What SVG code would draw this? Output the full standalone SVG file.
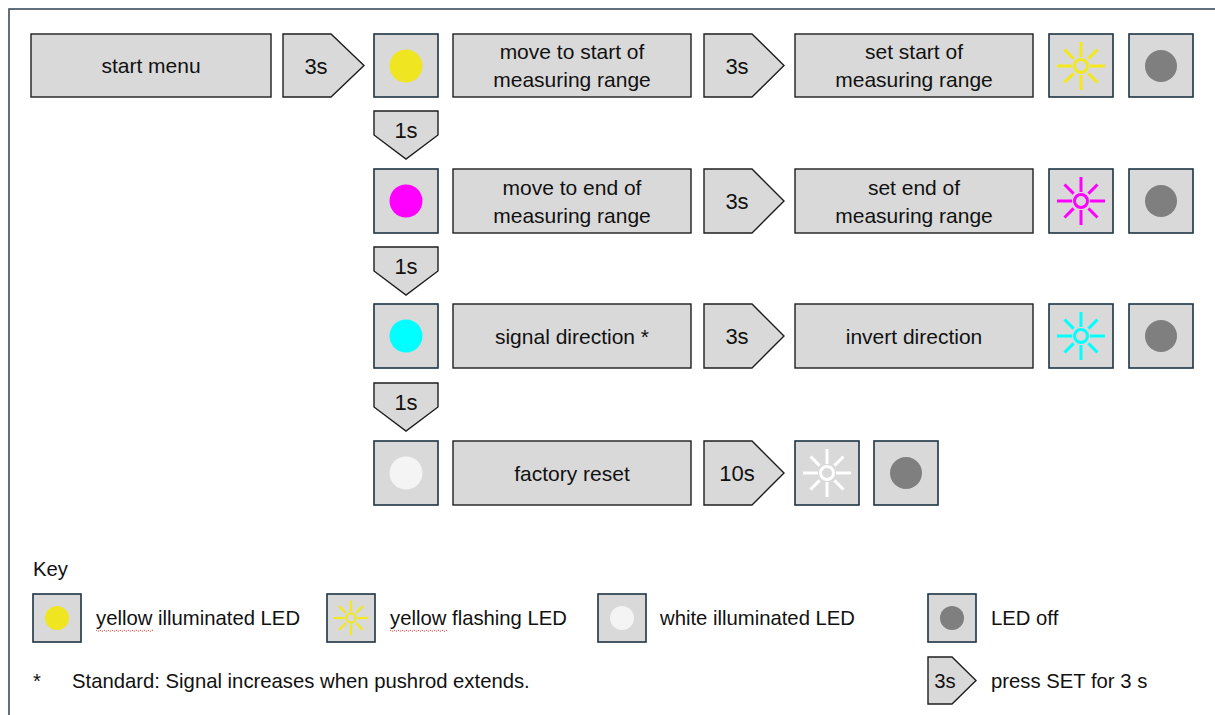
<svg xmlns="http://www.w3.org/2000/svg" xmlns:xlink="http://www.w3.org/1999/xlink" width="1215" height="715" viewBox="0 0 1215 715">
<style>
text{font-family:"Liberation Sans",Arial,sans-serif;font-size:21px;fill:#111;}
.c{text-anchor:middle;}
.num{font-size:22px;}
.k{font-size:20.3px;}
.box{fill:#d9d9d9;stroke:#1e1e1e;stroke-width:1.4;}
.led{fill:#d9d9d9;stroke:#1c3443;stroke-width:1.6;}
.arr{fill:#d9d9d9;stroke:#1e1e1e;stroke-width:1.4;stroke-linejoin:miter;}
.frame{fill:none;stroke:#2e4150;stroke-width:1.5;}
.sun{fill:none;stroke-width:3;}
.sq{fill:none;stroke:#d04040;stroke-width:0.9;stroke-dasharray:1.5 1;}
</style>
<defs>
<g id="sun">
<circle cx="0" cy="0" r="6.5"/>
<line x1="0" y1="-9" x2="0" y2="-24"/>
<line x1="0" y1="9" x2="0" y2="24"/>
<line x1="-9" y1="0" x2="-24" y2="0"/>
<line x1="9" y1="0" x2="24" y2="0"/>
<line x1="-7.4" y1="-7.4" x2="-16.5" y2="-16.5"/>
<line x1="7.4" y1="-7.4" x2="16.5" y2="-16.5"/>
<line x1="-7.4" y1="7.4" x2="-16.5" y2="16.5"/>
<line x1="7.4" y1="7.4" x2="16.5" y2="16.5"/>
</g>
</defs>
<rect x="9" y="9" width="1230" height="730" class="frame"/>

<!-- Row 1 -->
<g id="start-menu"><rect class="box" x="31" y="34" width="240" height="63"/><text class="c" x="151" y="73">start menu</text></g>
<g id="led-yellow"><rect class="led" x="374" y="34" width="64" height="63"/><circle cx="406" cy="66" r="16.5" fill="#efe521"/></g>
<g id="move-start"><rect class="box" x="453" y="34" width="238" height="63"/><text class="c" x="572" y="59">move to start of</text><text class="c" x="572" y="87">measuring range</text></g>
<g id="set-start"><rect class="box" x="795" y="34" width="238" height="63"/><text class="c" x="914" y="59">set start of</text><text class="c" x="914" y="87">measuring range</text></g>
<g id="flash-yellow"><rect class="led" x="1049" y="34" width="64" height="63"/><use xlink:href="#sun" href="#sun" x="1081" y="66" class="sun" stroke="#f2e81c"/></g>
<g id="off-1"><rect class="led" x="1129" y="34" width="64" height="63"/><circle cx="1161" cy="66" r="16" fill="#7f7f7f"/></g>

<!-- Row 2 -->
<g id="led-magenta"><rect class="led" x="374" y="169" width="64" height="64"/><circle cx="406" cy="201" r="16.5" fill="#ff00ff"/></g>
<g id="move-end"><rect class="box" x="453" y="169" width="238" height="64"/><text class="c" x="572" y="195">move to end of</text><text class="c" x="572" y="223">measuring range</text></g>
<g id="set-end"><rect class="box" x="795" y="169" width="238" height="64"/><text class="c" x="914" y="195">set end of</text><text class="c" x="914" y="223">measuring range</text></g>
<g id="flash-magenta"><rect class="led" x="1049" y="169" width="64" height="64"/><use xlink:href="#sun" href="#sun" x="1081" y="201" class="sun" stroke="#ff00ff"/></g>
<g id="off-2"><rect class="led" x="1129" y="169" width="64" height="64"/><circle cx="1161" cy="201" r="16" fill="#7f7f7f"/></g>

<!-- Row 3 -->
<g id="led-cyan"><rect class="led" x="374" y="304" width="64" height="64"/><circle cx="406" cy="336" r="16.5" fill="#00ffff"/></g>
<g id="signal-direction"><rect class="box" x="453" y="304" width="238" height="64"/><text class="c" x="572" y="344">signal direction *</text></g>
<g id="invert-direction"><rect class="box" x="795" y="304" width="238" height="64"/><text class="c" x="914" y="344">invert direction</text></g>
<g id="flash-cyan"><rect class="led" x="1049" y="304" width="64" height="64"/><use xlink:href="#sun" href="#sun" x="1081" y="336" class="sun" stroke="#00ffff"/></g>
<g id="off-3"><rect class="led" x="1129" y="304" width="64" height="64"/><circle cx="1161" cy="336" r="16" fill="#7f7f7f"/></g>

<!-- Row 4 -->
<g id="led-white"><rect class="led" x="374" y="441" width="64" height="64"/><circle cx="406" cy="473" r="16.5" fill="#f4f4f4"/></g>
<g id="factory-reset"><rect class="box" x="453" y="441" width="238" height="64"/><text class="c" x="572" y="481">factory reset</text></g>
<g id="flash-white"><rect class="led" x="795" y="441" width="64" height="64"/><use xlink:href="#sun" href="#sun" x="827" y="473" class="sun" stroke="#ffffff"/></g>
<g id="off-4"><rect class="led" x="874" y="441" width="64" height="64"/><circle cx="906" cy="473" r="16" fill="#7f7f7f"/></g>

<!-- Connectors (step arrows) -->
<g id="connectors">
<g id="arrow-start-3s"><polygon class="arr" points="283,34 331,34 364,65.5 331,97 283,97"/><text class="c num" x="316" y="74">3s</text></g>
<g id="arrow-r1-3s"><polygon class="arr" points="704,34 752,34 784,65.5 752,97 704,97"/><text class="c num" x="737" y="74">3s</text></g>
<g id="arrow-r2-3s"><polygon class="arr" points="704,169 752,169 784,201 752,233 704,233"/><text class="c num" x="737" y="209">3s</text></g>
<g id="arrow-r3-3s"><polygon class="arr" points="704,304 752,304 784,336 752,368 704,368"/><text class="c num" x="737" y="344">3s</text></g>
<g id="arrow-r4-10s"><polygon class="arr" points="704,441 752,441 784,473 752,505 704,505"/><text class="c num" x="737" y="481">10s</text></g>
<g id="arrow-down-1"><polygon class="arr" points="374,111 438,111 438,135 406,159 374,135"/><text class="c num" x="406" y="138">1s</text></g>
<g id="arrow-down-2"><polygon class="arr" points="374,247 438,247 438,271 406,295 374,271"/><text class="c num" x="406" y="274">1s</text></g>
<g id="arrow-down-3"><polygon class="arr" points="374,383 438,383 438,407 406,431 374,407"/><text class="c num" x="406" y="410">1s</text></g>
</g>

<!-- Key -->
<g id="key">
<text class="k" x="33" y="576">Key</text>
<g id="key-yellow"><rect class="led" x="33" y="594" width="48" height="48"/><circle cx="57" cy="618" r="12" fill="#efe521"/><text class="k" x="96" y="625">yellow illuminated LED</text><path class="sq" d="M96,630 l2,1.5 l2,-1.5 l2,1.5 l2,-1.5 l2,1.5 l2,-1.5 l2,1.5 l2,-1.5 l2,1.5 l2,-1.5 l2,1.5 l2,-1.5 l2,1.5 l2,-1.5 l2,1.5 l2,-1.5 l2,1.5 l2,-1.5 l2,1.5 l2,-1.5 l2,1.5 l2,-1.5 l2,1.5 l2,-1.5 l2,1.5 l2,-1.5 l2,1.5 l2,-1.5 l2,1.5"/></g>
<g id="key-flash"><rect class="led" x="327" y="594" width="48" height="48"/><use xlink:href="#sun" href="#sun" transform="translate(351,618) scale(0.72)" class="sun" stroke="#f2e81c"/><text class="k" x="390" y="625">yellow flashing LED</text><path class="sq" d="M390,630 l2,1.5 l2,-1.5 l2,1.5 l2,-1.5 l2,1.5 l2,-1.5 l2,1.5 l2,-1.5 l2,1.5 l2,-1.5 l2,1.5 l2,-1.5 l2,1.5 l2,-1.5 l2,1.5 l2,-1.5 l2,1.5 l2,-1.5 l2,1.5 l2,-1.5 l2,1.5 l2,-1.5 l2,1.5 l2,-1.5 l2,1.5 l2,-1.5 l2,1.5 l2,-1.5 l2,1.5"/></g>
<g id="key-white"><rect class="led" x="598" y="594" width="48" height="48"/><circle cx="622" cy="618" r="12" fill="#f4f4f4"/><text class="k" x="660" y="625">white illuminated LED</text></g>
<g id="key-off"><rect class="led" x="928" y="594" width="48" height="48"/><circle cx="952" cy="618" r="12" fill="#7f7f7f"/><text class="k" x="991" y="625">LED off</text></g>
<g id="key-press"><polygon class="arr" points="928,657 952,657 976,680.5 952,704 928,704"/><text class="c k" x="945" y="688">3s</text><text class="k" x="991" y="688">press SET for 3 s</text></g>
<g id="key-note"><text class="k" x="33" y="688">*</text><text class="k" x="72" y="688">Standard: Signal increases when pushrod extends.</text></g>
</g>
</svg>
